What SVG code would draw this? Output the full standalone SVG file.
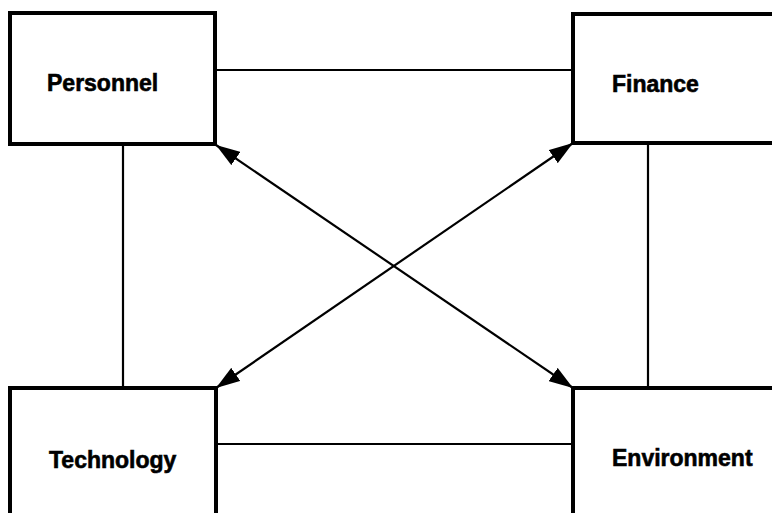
<svg xmlns="http://www.w3.org/2000/svg" width="772" height="513" viewBox="0 0 772 513">
<style>
.box{fill:#fff;stroke:#000;stroke-width:4}
.lbl{font-family:"Liberation Sans",Arial,sans-serif;font-weight:bold;font-size:23px;fill:#000;stroke:#000;stroke-width:0.6}
.con{stroke:#000;stroke-width:2.2;fill:none}
</style>
<defs>
<marker id="ah" viewBox="0 0 24 16" refX="24" refY="8" markerWidth="24" markerHeight="16" markerUnits="userSpaceOnUse" orient="auto-start-reverse">
<path d="M0,0 L24,8 L0,16 z" fill="#000"/>
</marker>
</defs>
<rect width="772" height="513" fill="#fff"/>
<g id="connectors">
<line class="con" x1="215" y1="70" x2="573" y2="70"/>
<line class="con" x1="123" y1="144" x2="123" y2="388"/>
<line class="con" x1="648" y1="143" x2="648" y2="388"/>
<line class="con" x1="216" y1="444" x2="573" y2="444"/>
<line class="con" x1="216" y1="145" x2="573" y2="388" marker-start="url(#ah)" marker-end="url(#ah)"/>
<line class="con" x1="573" y1="143" x2="216" y2="388" marker-start="url(#ah)" marker-end="url(#ah)"/>
</g>
<g id="personnel">
<rect class="box" x="10" y="13" width="205" height="131"/>
<text class="lbl" x="47" y="91">Personnel</text>
</g>
<g id="finance">
<rect class="box" x="573" y="14" width="220" height="129"/>
<text class="lbl" x="612" y="92">Finance</text>
</g>
<g id="technology">
<rect class="box" x="10" y="388" width="206" height="140"/>
<text class="lbl" x="49" y="468">Technology</text>
</g>
<g id="environment">
<rect class="box" x="573" y="388" width="220" height="140"/>
<text class="lbl" x="612" y="466">Environment</text>
</g>
</svg>
